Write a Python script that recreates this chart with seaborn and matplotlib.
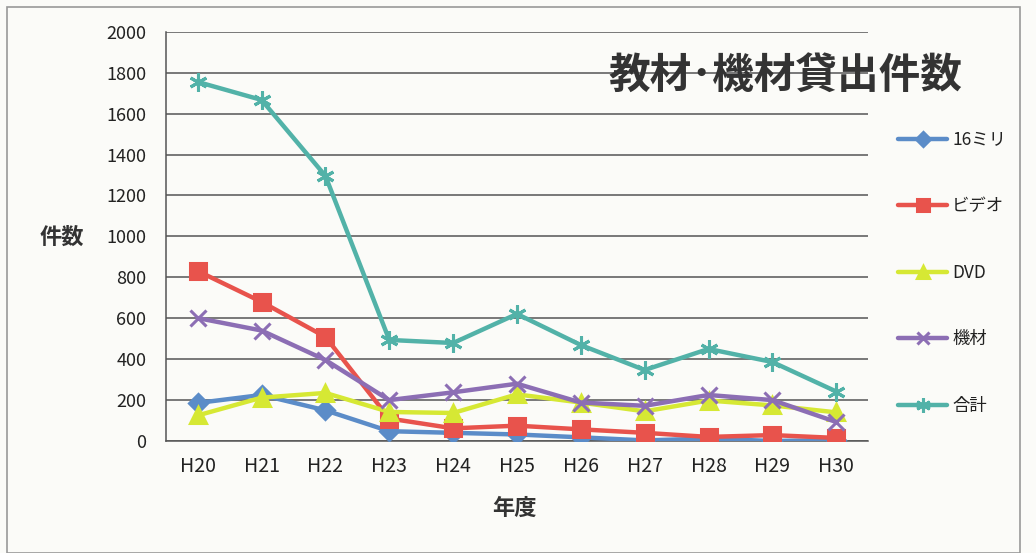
import matplotlib
matplotlib.use("Agg")
import matplotlib.pyplot as plt
import seaborn as sns
import numpy as np
import pandas as pd
from matplotlib.patches import Rectangle

years = ["H20", "H21", "H22", "H23", "H24", "H25", "H26", "H27", "H28", "H29", "H30"]
s16mm = [186, 225, 150, 48, 40, 32, 18, 3, 12, 0, 5]
video = [831, 680, 509, 110, 62, 75, 57, 40, 20, 29, 15]
dvd = [125, 212, 235, 142, 137, 228, 188, 145, 198, 174, 140]
kizai = [601, 540, 396, 200, 238, 280, 188, 172, 225, 200, 93]
total = [1755, 1667, 1296, 494, 479, 621, 469, 347, 450, 386, 242]

names = ["16ミリ", "ビデオ", "DVD", "機材", "合計"]
series = [s16mm, video, dvd, kizai, total]
colors = ["#5B8CC8", "#E8534C", "#D6E834", "#8C6EB4", "#52B2A8"]
markers = ["D", "s", "^", "x", (6, 2, 0)]
msizes = [9, 11, 11, 11, 13]

sns.set_theme(style="white")
plt.rcParams["font.family"] = ["Noto Sans CJK JP", "DejaVu Sans"]

fig = plt.figure(figsize=(10.36, 5.53), dpi=100)
fig.patch.set_facecolor("#FBFBF8")
ax = fig.add_axes([0.160, 0.2025, 0.678, 0.740])
ax.set_facecolor("#FBFBF8")

xpos = np.arange(len(years))
for name, vals, c, m, ms in zip(names, series, colors, markers, msizes):
    df = pd.DataFrame({"x": xpos, "y": vals})
    sns.lineplot(data=df, x="x", y="y", ax=ax, color=c, linewidth=3.2,
                 marker=m, markersize=ms, markeredgecolor=c, markerfacecolor=c,
                 markeredgewidth=2.2, label=name, zorder=3)

ax.set_xlim(-0.5, len(years) - 0.5)
ax.set_ylim(0, 2000)
ax.set_yticks(np.arange(0, 2001, 200))
ax.set_xticks(xpos)
ax.set_xticklabels(years, fontsize=14, color="#222222")
ax.set_xticks(np.arange(-0.5, len(years), 1), minor=True)
ax.tick_params(axis="x", which="major", length=0, pad=11)
ax.tick_params(axis="x", which="minor", length=6, width=1, color="#555555", direction="out")
ax.tick_params(axis="y", length=6, width=1, color="#555555", direction="out", labelsize=13,
               labelcolor="#222222", pad=8)
ax.grid(axis="y", color="#555555", linewidth=1.1)
for sp in ["top", "right"]:
    ax.spines[sp].set_visible(False)
for sp in ["left", "bottom"]:
    ax.spines[sp].set_color("#555555")
    ax.spines[sp].set_linewidth(1.1)

ax.set_xlabel("")
ax.set_ylabel("")
fig.text(0.497, 0.080, "年度", fontsize=16, fontweight="bold", color="#333333",
         ha="center", va="center")
fig.text(0.060, 0.571, "件数", fontsize=16, fontweight="bold", color="#333333",
         ha="center", va="center")

fig.text(0.758, 0.861, "教材･機材貸出件数", fontsize=30, fontweight="bold", color="#333333",
         ha="center", va="center")

handles, labels = ax.get_legend_handles_labels()
ax.legend_.remove()
leg = fig.legend(handles, labels, loc="upper left", bbox_to_anchor=(0.852, 0.792),
                 frameon=False, fontsize=12.5, labelspacing=2.8, handlelength=2.8,
                 handletextpad=0.3, markerscale=0.8)
for t in leg.get_texts():
    t.set_color("#222222")

fig.add_artist(Rectangle((0.007, 0.0), 0.978, 0.987, transform=fig.transFigure,
                         fill=False, edgecolor="#999999", linewidth=1.2))

fig.savefig("out.png", dpi=100, facecolor=fig.get_facecolor())
